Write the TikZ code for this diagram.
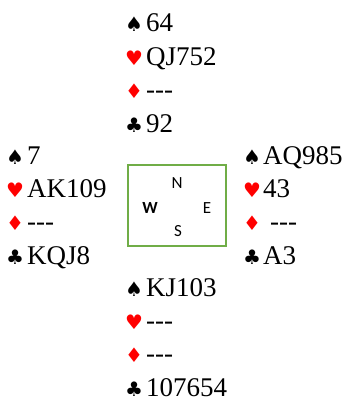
\documentclass[tikz,border=0pt]{standalone}
\usepackage{fontspec}
\setmainfont{Liberation Serif}
\newfontfamily\suitfont{DejaVu Sans}
\newfontfamily\boxfont{Carlito}
\definecolor{boxgreen}{HTML}{70AD47}
\definecolor{suitred}{HTML}{FF0000}
\newcommand{\nocards}{-\kern0pt-\kern0pt-}
\begin{document}
\begin{tikzpicture}[x=1pt,y=-1pt,
  cards/.style={anchor=base west,inner sep=0pt,font=\fontsize{27}{27}\selectfont},
  suit/.style={anchor=base west,inner sep=0pt,font=\suitfont\fontsize{20}{20}\selectfont},
  redsuit/.style={suit,text=suitred},
  dir/.style={inner sep=0pt,font=\boxfont\fontsize{17}{17}\selectfont}]
\useasboundingbox (0,0) rectangle (351,401);
% North
\node[suit]    (ns) at (125,32) {♠};
\node[cards]   (nst) at (146,32) {64};
\node[redsuit] (nh) at (125,65.3) {♥};
\node[cards]   (nht) at (146,65.3) {QJ752};
\node[redsuit] (nd) at (125,98.7) {♦};
\node[cards]   (ndt) at (146,98.7) {\nocards};
\node[suit]    (nc) at (125,132) {♣};
\node[cards]   (nct) at (146,132) {92};
% West
\node[suit]    (ws) at (6,164) {♠};
\node[cards]   (wst) at (27,164) {7};
\node[redsuit] (wh) at (6,197.3) {♥};
\node[cards]   (wht) at (27,197.3) {AK109};
\node[redsuit] (wd) at (6,230.7) {♦};
\node[cards]   (wdt) at (27,230.7) {\nocards};
\node[suit]    (wc) at (6,264) {♣};
\node[cards]   (wct) at (27,264) {KQJ8};
% East
\node[suit]    (es) at (243,164) {♠};
\node[cards]   (est) at (263,164) {AQ985};
\node[redsuit] (eh) at (243,197.3) {♥};
\node[cards]   (eht) at (263,197.3) {43};
\node[redsuit] (ed) at (243,230.7) {♦};
\node[cards]   (edt) at (270,230.7) {\nocards};
\node[suit]    (ec) at (243,264) {♣};
\node[cards]   (ect) at (263,264) {A3};
% South
\node[suit]    (ss) at (125,296) {♠};
\node[cards]   (sst) at (146,296) {KJ103};
\node[redsuit] (sh) at (125,329.3) {♥};
\node[cards]   (sht) at (146,329.3) {\nocards};
\node[redsuit] (sd) at (125,362.7) {♦};
\node[cards]   (sdt) at (146,362.7) {\nocards};
\node[suit]    (sc) at (125,396) {♣};
\node[cards]   (sct) at (146,396) {107654};
% compass box
\node[draw=boxgreen,line width=2pt,minimum width=98pt,minimum height=81pt,inner sep=0pt] (box) at (177,205.5) {};
\node[dir] (bn) at (177,183) {N};
\node[dir,font=\boxfont\bfseries\fontsize{17}{17}\selectfont] (bw) at (150,208) {W};
\node[dir] (be) at (207,208) {E};
\node[dir] (bs) at (178,231) {S};
\end{tikzpicture}
\end{document}
